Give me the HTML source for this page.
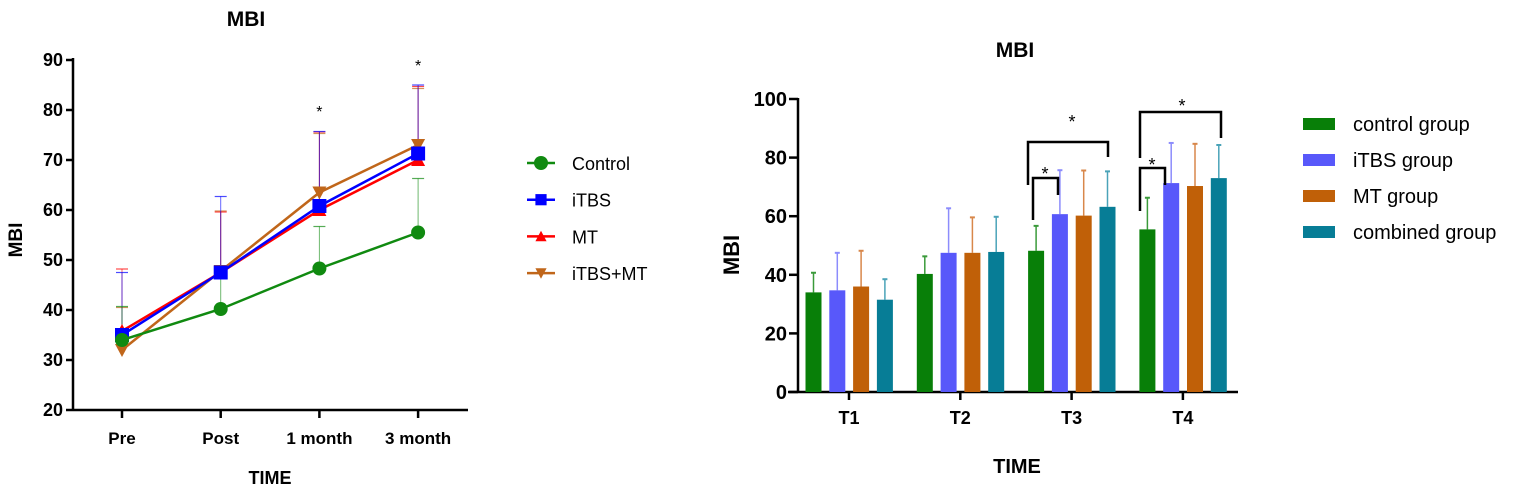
<!DOCTYPE html>
<html><head><meta charset="utf-8"><style>
body{margin:0;background:#fff;}
svg{display:block;font-family:"Liberation Sans",Arial,sans-serif;}
</style></head><body>
<svg id="chart" width="1535" height="494" viewBox="0 0 1535 494" xmlns="http://www.w3.org/2000/svg"></svg>
<script>
// Left line chart data
const timeLabels = ["Pre","Post","1 month","3 month"];
const lineSeriesNames = ["Control","iTBS","MT","iTBS+MT"];
const ctrlMean = [34, 40.2, 48.3, 55.5];
const itbsMean = [35, 47.5, 60.8, 71.3];
const mtMean = [35.8, 47.5, 60, 70];
const comboMean = [32, 47.8, 63.5, 73];
const ctrlUpper = [40.7, 46.3, 56.7, 66.3];
const itbsUpper = [47.5, 62.7, 75.7, 85];
const mtUpper = [48.2, 59.6, 75.6, 84.7];
const comboUpper = [40.5, 59.8, 75.3, 84.3];
const leftTicks = [20,30,40,50,60,70,80,90];
// Right bar chart data
const barCategories = ["T1","T2","T3","T4"];
const barSeriesNames = ["control group","iTBS group","MT group","combined group"];
const barCtrl = [34, 40.3, 48.2, 55.5];
const barItbs = [34.7, 47.5, 60.7, 71.3];
const barMt = [36, 47.5, 60.2, 70.3];
const barCombo = [31.5, 47.8, 63.2, 73];
const barCtrlErr = [40.7, 46.3, 56.7, 66.3];
const barItbsErr = [47.5, 62.7, 75.7, 85];
const barMtErr = [48.2, 59.6, 75.6, 84.7];
const barComboErr = [38.5, 59.8, 75.3, 84.3];
const rightTicks = [0,20,40,60,80,100];

const svg=document.getElementById('chart');
const NS='http://www.w3.org/2000/svg';
function mk(tag,attrs,parent,name){const e=document.createElementNS(NS,tag);for(const k in attrs)e.setAttribute(k,attrs[k]);


(parent||svg).appendChild(e);return e;}
function txt(x,y,s,attrs,name){const t=mk('text',Object.assign({x:x,y:y},attrs),svg,name);t.textContent=s;return t;}

// ---- Left chart ----
const Lx0=73, Lx1=468;
const ly=v=>410-(v-20)*5;
const lx=i=>122+i*98.7;
txt(246,26,"MBI",{"font-size":21,"font-weight":"bold","text-anchor":"middle"},'left-title');
mk('line',{x1:Lx0,y1:58,x2:Lx0,y2:411,stroke:'#000','stroke-width':2.5},svg,'left-y-axis');
mk('line',{x1:Lx0,y1:410,x2:Lx1,y2:410,stroke:'#000','stroke-width':2.5},svg,'left-x-axis');
leftTicks.forEach(v=>{mk('line',{x1:Lx0-7,y1:ly(v),x2:Lx0,y2:ly(v),stroke:'#000','stroke-width':2.5},svg,'left-y-tick');
txt(Lx0-10,ly(v)+6,String(v),{"font-size":18,"font-weight":"bold","text-anchor":"end"},'left-y-tick-label');});
timeLabels.forEach((l,i)=>{mk('line',{x1:lx(i),y1:410,x2:lx(i),y2:418,stroke:'#000','stroke-width':2.5},svg,'left-x-tick');
txt(lx(i),444,l,{"font-size":17,"font-weight":"bold","text-anchor":"middle"},'left-x-tick-label');});
txt(270,484,"TIME",{"font-size":18,"font-weight":"bold","text-anchor":"middle"},'left-x-axis-title');
txt(0,0,"MBI",{"font-size":19,"font-weight":"bold","text-anchor":"middle",transform:"translate(22,240) rotate(-90)"},'left-y-axis-title');
const lseries=[
 {m:comboMean,u:comboUpper,c:'#c0661a',mk:'tri-down'},
 {m:mtMean,u:mtUpper,c:'#ff0000',mk:'tri'},
 {m:itbsMean,u:itbsUpper,c:'#0000ff',mk:'sq'},
 {m:ctrlMean,u:ctrlUpper,c:'#108a10',mk:'circle'}];
function marker(type,x,y,c,name){
 if(type==='circle')return mk('circle',{cx:x,cy:y,r:7,fill:c},svg,name);
 if(type==='sq')return mk('rect',{x:x-7,y:y-7,width:14,height:14,fill:c},svg,name);
 if(type==='tri')return mk('polygon',{points:`${x-7},${y+6} ${x+7},${y+6} ${x},${y-7}`,fill:c},svg,name);
 return mk('polygon',{points:`${x-7},${y-6} ${x+7},${y-6} ${x},${y+7}`,fill:c},svg,name);}
lseries.forEach(s=>{s.m.forEach((v,i)=>{mk('line',{x1:lx(i),y1:ly(v),x2:lx(i),y2:ly(s.u[i]),stroke:s.c,'stroke-width':1,opacity:0.6},svg,'error-bar');
 mk('line',{x1:lx(i)-6,y1:ly(s.u[i]),x2:lx(i)+6,y2:ly(s.u[i]),stroke:s.c,'stroke-width':1.2,opacity:0.7},svg,'error-cap');});});
lseries.forEach(s=>{mk('polyline',{points:s.m.map((v,i)=>lx(i)+','+ly(v)).join(' '),fill:'none',stroke:s.c,'stroke-width':2.5},svg,'series-line');
 s.m.forEach((v,i)=>marker(s.mk,lx(i),ly(v),s.c,'data-point'));});
txt(lx(2),117,"*",{"font-size":16,"text-anchor":"middle"},'significance-star');
txt(lx(3),71,"*",{"font-size":16,"text-anchor":"middle"},'significance-star');
const legL=[['Control','#108a10','circle'],['iTBS','#0000ff','sq'],['MT','#ff0000','tri'],['iTBS+MT','#c0661a','tri-down']];
legL.forEach((d,i)=>{const y=163+i*36.7;
 mk('line',{x1:527,y1:y,x2:555,y2:y,stroke:d[1],'stroke-width':2.5},svg,'legend-line');
 const m=marker(d[2],541,y,d[1],'legend-marker'); if(d[2]!=='circle')m.setAttribute('transform',`translate(541,${y}) scale(0.8) translate(-541,${-y})`);
 txt(572,y+7,d[0],{"font-size":18},'legend-label');});

// ---- Right chart ----
const Rx0=798, Rx1=1238;
const ry=v=>392-v*2.93;
const gx=i=>849+i*111.3;
txt(1015,57,"MBI",{"font-size":21,"font-weight":"bold","text-anchor":"middle"},'right-title');
mk('line',{x1:Rx0,y1:98,x2:Rx0,y2:393,stroke:'#000','stroke-width':2.5},svg,'right-y-axis');
mk('line',{x1:Rx0-10,y1:392,x2:Rx1,y2:392,stroke:'#000','stroke-width':2.5},svg,'right-x-axis');
rightTicks.forEach(v=>{mk('line',{x1:Rx0-9,y1:ry(v),x2:Rx0,y2:ry(v),stroke:'#000','stroke-width':2.5},svg,'right-y-tick');
 txt(Rx0-11,ry(v)+7,String(v),{"font-size":20,"font-weight":"bold","text-anchor":"end"},'right-y-tick-label');});
barCategories.forEach((l,i)=>{mk('line',{x1:gx(i),y1:392,x2:gx(i),y2:400,stroke:'#000','stroke-width':2.5},svg,'right-x-tick');
 txt(gx(i),424,l,{"font-size":18,"font-weight":"bold","text-anchor":"middle"},'right-x-tick-label');});
txt(1017,473,"TIME",{"font-size":20,"font-weight":"bold","text-anchor":"middle"},'right-x-axis-title');
txt(0,0,"MBI",{"font-size":22,"font-weight":"bold","text-anchor":"middle",transform:"translate(739,255) rotate(-90)"},'right-y-axis-title');
const bseries=[[barCtrl,barCtrlErr,'#087f08','#3a9a3a'],[barItbs,barItbsErr,'#5858fa','#8c8cfc'],[barMt,barMtErr,'#c06008','#d8874a'],[barCombo,barComboErr,'#077d96','#4aa3b8']];
bseries.forEach((s,j)=>{s[0].forEach((v,i)=>{const cx=gx(i)-35.5+j*23.8;
 mk('line',{x1:cx,y1:ry(v),x2:cx,y2:ry(s[1][i]),stroke:s[3],'stroke-width':1.5},svg,'bar-error');
 mk('line',{x1:cx-2.5,y1:ry(s[1][i]),x2:cx+2.5,y2:ry(s[1][i]),stroke:s[3],'stroke-width':2},svg,'bar-error-cap');
 mk('rect',{x:cx-8,y:ry(v),width:16,height:392-ry(v),fill:s[2]},svg,'bar-'+barCategories[i].toLowerCase()+'-'+j);});});
function bracket(x1,x2,top,b1,b2,sx,sy){mk('polyline',{points:`${x1},${b1} ${x1},${top} ${x2},${top} ${x2},${b2}`,fill:'none',stroke:'#000','stroke-width':2.5},svg,'significance-bracket');
 txt(sx,sy,"*",{"font-size":18,"text-anchor":"middle"},'significance-star');}
bracket(1033,1058,178,220,195,1045,180);
bracket(1028,1108,142,185,157,1072,128);
bracket(1140,1165,168,211,185,1152,171);
bracket(1140,1221,112,158,138,1182,112);
const legR=[['control group','#087f08'],['iTBS group','#5858fa'],['MT group','#c06008'],['combined group','#077d96']];
legR.forEach((d,i)=>{const y=124+i*36;
 mk('rect',{x:1303,y:y-6,width:32,height:12,fill:d[1]},svg,'legend-swatch');
 txt(1353,y+7,d[0],{"font-size":20},'legend-label');});
</script>
</body></html>
